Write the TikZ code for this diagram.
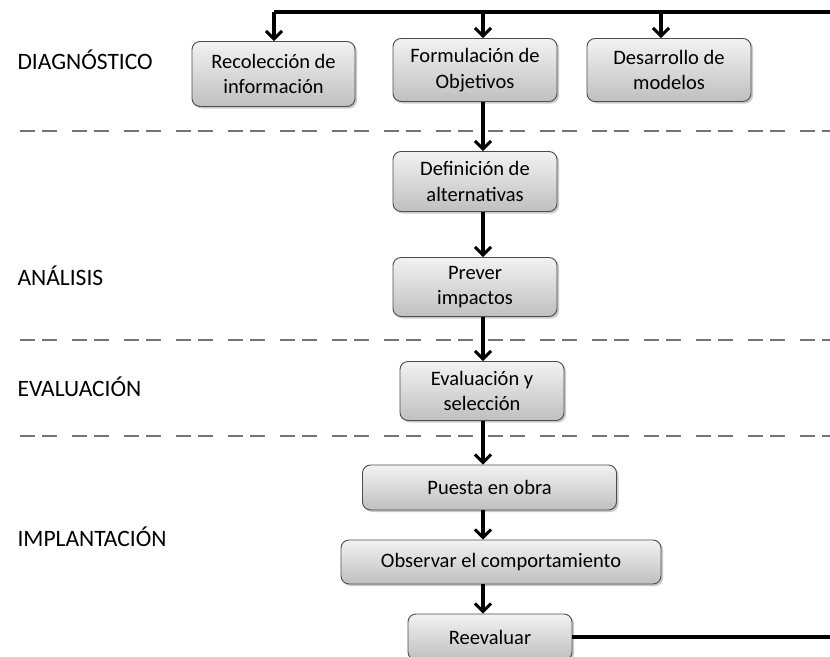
\documentclass[tikz,border=0pt]{standalone}
\usepackage{fontspec}
\setmainfont{Carlito}
\usetikzlibrary{arrows.meta,shadows,calc}
\begin{document}
\begin{tikzpicture}[x=1pt,y=-1pt,
  stepbox/.style={draw=black!70,line width=0.9pt,rounded corners=8pt,
    top color=white!95!black,bottom color=black!25,
    drop shadow={shadow xshift=2pt,shadow yshift=-2pt,opacity=0.35,fill=black!60},
    align=center,inner sep=1pt,font=\fontsize{20.5}{25.5}\selectfont,text=black},
  phase/.style={anchor=west,font=\fontsize{23.5}{26}\selectfont,text=black},
  flow/.style={line width=3.2pt,black},
  arr/.style={flow,-{Straight Barb[length=8pt,width=16pt,line width=3pt]}},
  sep/.style={line width=2pt,black!55,dash pattern=on 15pt off 7pt on 15pt off 15pt}
]
\useasboundingbox (0,0) rectangle (830,656);
\clip (0,0) rectangle (830,656);

% phase separators
\draw[sep] (20,131) -- (836,131);
\draw[sep] (20,340) -- (836,340);
\draw[sep] (20,436) -- (836,436);

% phase labels
\node[phase] (lblDiag) at (14,60) {DIAGNÓSTICO};
\node[phase] (lblAna) at (14,276) {ANÁLISIS};
\node[phase] (lblEval) at (14,387) {EVALUACIÓN};
\node[phase] (lblImpl) at (14,537) {IMPLANTACIÓN};

% process steps
\node[stepbox,minimum width=163pt,minimum height=65pt] (rec) at (273.5,74) {Recolección de\\información};
\node[stepbox,minimum width=164pt,minimum height=63pt] (form) at (475,70) {Formulación de\\Objetivos};
\node[stepbox,minimum width=164pt,minimum height=63pt] (des) at (669,70) {Desarrollo de\\modelos};
\node[stepbox,minimum width=164pt,minimum height=60pt] (def) at (475,181.5) {Definición de\\alternativas};
\node[stepbox,minimum width=164pt,minimum height=59pt] (prev) at (475,287) {Prever\\impactos};
\node[stepbox,minimum width=164pt,minimum height=59pt] (eval) at (482,391) {Evaluación y\\selección};
\node[stepbox,minimum width=254pt,minimum height=45pt] (puesta) at (489.5,487.5) {Puesta en obra};
\node[stepbox,minimum width=320pt,minimum height=44pt] (obs) at (501,562) {Observar el comportamiento};
\node[stepbox,minimum width=164pt,minimum height=46pt] (reev) at (490,637) {Reevaluar};

% main column and feedback loop
\coordinate (col) at (483,0);
\coordinate (loopR) at (845,12);
\coordinate (tapA) at (274,12);
\coordinate (tapB) at (483,12);
\coordinate (tapC) at (661,12);

\draw[flow,line join=miter] (reev.east) -- (loopR |- reev.east) -- (loopR) -- (tapA);
\draw[arr] (tapA) -- (tapA |- rec.north);
\draw[arr] (tapB) -- (tapB |- form.north);
\draw[arr] (tapC) -- (tapC |- des.north);

\draw[arr] (form.south -| col) -- (def.north -| col);
\draw[arr] (def.south -| col) -- (prev.north -| col);
\draw[arr] (prev.south -| col) -- (eval.north -| col);
\draw[arr] (eval.south -| col) -- (puesta.north -| col);
\draw[arr] (puesta.south -| col) -- (obs.north -| col);
\draw[arr] (obs.south -| col) -- (reev.north -| col);
\end{tikzpicture}
\end{document}
